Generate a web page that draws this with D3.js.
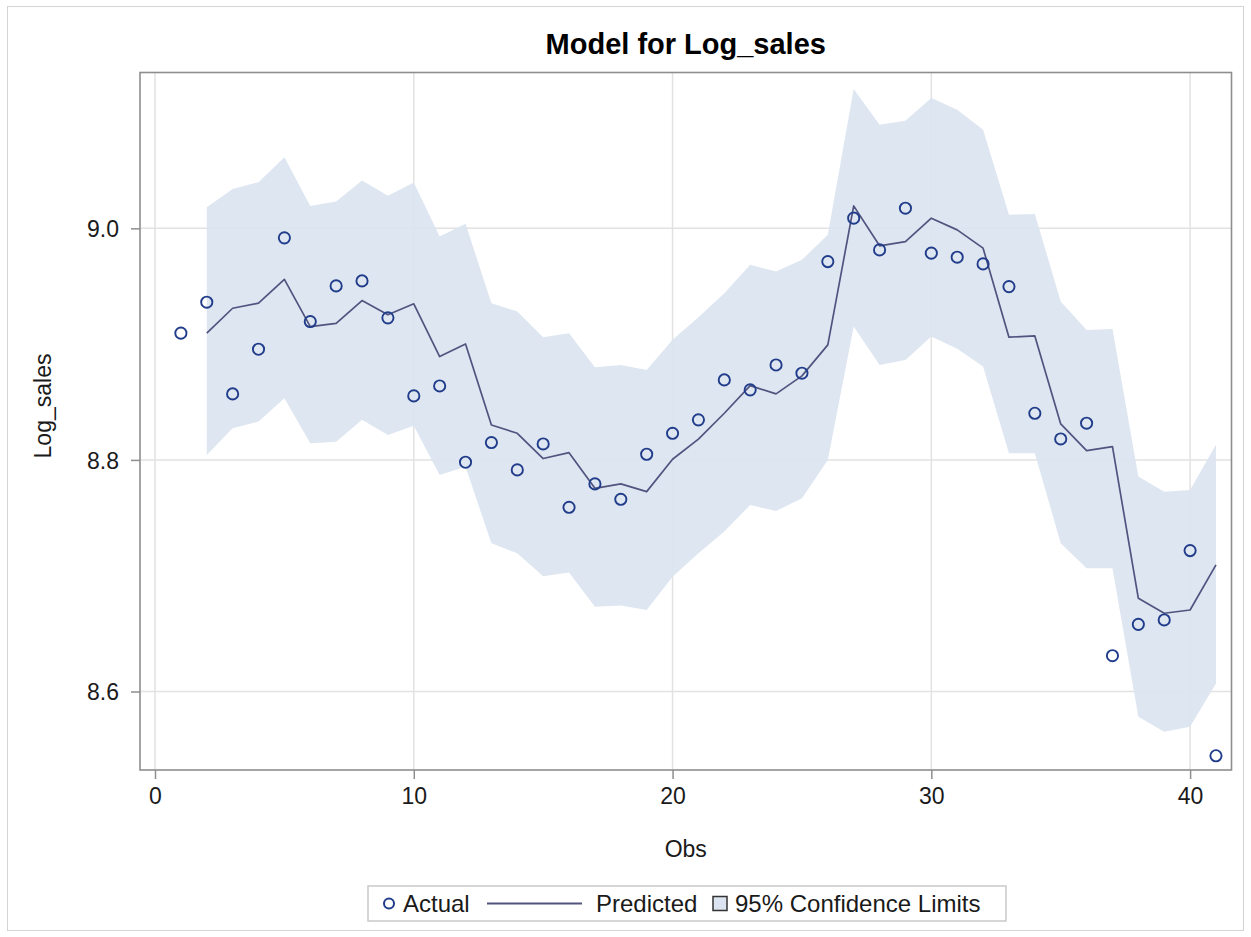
<!DOCTYPE html>
<html>
<head>
<meta charset="utf-8">
<script src="https://cdn.jsdelivr.net/npm/d3@7"></script>
<style>
  html, body { margin: 0; padding: 0; background: #ffffff; }
  svg { display: block; }
  text { font-family: "Liberation Sans", Arial, sans-serif; fill: #1a1a1a; }
</style>
</head>
<body>
<svg id="chart" width="1251" height="937"></svg>
<script>
// Observation index, observed values, model fit and 95% limits
const obs = d3.range(1, 42);
const actual = [8.9095, 8.9362, 8.857, 8.8956, 8.9918, 8.9195, 8.9503, 8.9546, 8.9227, 8.8553,
  8.8639, 8.798, 8.815, 8.7914, 8.8138, 8.7591, 8.7793, 8.766, 8.8049, 8.823,
  8.8346, 8.8691, 8.8605, 8.882, 8.8749, 8.9713, 9.0088, 8.9814, 9.0174, 8.9786,
  8.9751, 8.9693, 8.9497, 8.8403, 8.8181, 8.8317, 8.6309, 8.658, 8.6618, 8.7217, 8.5445];
const predicted = [null, 8.9095, 8.931, 8.9354, 8.956, 8.9152, 8.918, 8.9376, 8.9253, 8.9348,
  8.8893, 8.9002, 8.8302, 8.823, 8.8012, 8.8063, 8.7755, 8.7793, 8.7726, 8.8006,
  8.8179, 8.8403, 8.8642, 8.857, 8.8726, 8.8994, 9.0194, 8.9849, 8.9886, 9.0088,
  8.9987, 8.9829, 8.906, 8.9071, 8.8311, 8.808, 8.8115, 8.6805, 8.6676, 8.6704, 8.7093];
const upper = [null, 9.0183, 9.0339, 9.0399, 9.0615, 9.0194, 9.0232, 9.0413, 9.0281, 9.0396,
  8.9929, 9.0039, 8.9354, 8.9281, 8.906, 8.9095, 8.88, 8.882, 8.8777, 8.9037,
  8.9233, 8.944, 8.9685, 8.9627, 8.9728, 8.9944, 9.1203, 9.0894, 9.0929, 9.1125,
  9.1024, 9.0851, 9.0117, 9.0125, 8.9368, 8.9123, 8.913, 8.7856, 8.7726, 8.774, 8.813];
const lower = [null, 8.8043, 8.8274, 8.8331, 8.8533, 8.8144, 8.8158, 8.8346, 8.8216, 8.8295,
  8.787, 8.7942, 8.728, 8.7194, 8.6995, 8.7027, 8.6733, 8.6742, 8.6704, 8.6992,
  8.7194, 8.7381, 8.7611, 8.7559, 8.7669, 8.8, 8.9152, 8.882, 8.8864, 8.9065,
  8.896, 8.8806, 8.8058, 8.8058, 8.728, 8.7064, 8.7064, 8.5782, 8.5653, 8.5696, 8.607];
const xTicks = [0, 10, 20, 30, 40];
const yTicks = [8.6, 8.8, 9.0];
const legendLabels = ["Actual", "Predicted", "95% Confidence Limits"];

const rows = obs.map((o, i) => ({
  obs: o, actual: actual[i], predicted: predicted[i], upper: upper[i], lower: lower[i]
}));

const svg = d3.select("#chart");
const frame = { left: 140, right: 1231.5, top: 72.5, bottom: 770 };

const x = d3.scaleLinear().domain([-0.58, 41.6]).range([frame.left, frame.right]);
const y = d3.scaleLinear().domain([8.5322, 9.1346]).range([frame.bottom, frame.top]);

const bandFill = "#dbe4f0";
const lineColor = "#50547f";
const markerColor = "#203c8a";

// Outer graph border
svg.append("rect")
  .attr("x", 7.5).attr("y", 6.5).attr("width", 1236).attr("height", 924)
  .attr("fill", "none").attr("stroke", "#d4d4d4").attr("stroke-width", 1);

// Title
svg.append("text")
  .attr("x", (frame.left + frame.right) / 2).attr("y", 54)
  .attr("text-anchor", "middle")
  .style("font-size", "29px").style("font-weight", "bold").style("fill", "#000")
  .text("Model for Log_sales");

// Gridlines
const grid = svg.append("g");
grid.selectAll("line.gx").data(xTicks).join("line")
  .attr("x1", d => x(d)).attr("x2", d => x(d))
  .attr("y1", frame.top).attr("y2", frame.bottom)
  .attr("stroke", "#e2e2e2").attr("stroke-width", 1.5);
grid.selectAll("line.gy").data(yTicks).join("line")
  .attr("x1", frame.left).attr("x2", frame.right)
  .attr("y1", d => y(d)).attr("y2", d => y(d))
  .attr("stroke", "#e2e2e2").attr("stroke-width", 1.5);

// Confidence band
const bandRows = rows.filter(d => d.upper != null);
svg.append("path")
  .datum(bandRows)
  .attr("fill", bandFill)
  .attr("fill-opacity", 0.92)
  .attr("d", d3.area().x(d => x(d.obs)).y0(d => y(d.lower)).y1(d => y(d.upper)));

// Predicted line
svg.append("path")
  .datum(rows.filter(d => d.predicted != null))
  .attr("fill", "none")
  .attr("stroke", lineColor)
  .attr("stroke-width", 1.7)
  .attr("stroke-linejoin", "round")
  .attr("d", d3.line().x(d => x(d.obs)).y(d => y(d.predicted)));

// Actual values
svg.append("g").selectAll("circle").data(rows).join("circle")
  .attr("cx", d => x(d.obs)).attr("cy", d => y(d.actual))
  .attr("r", 5.6)
  .attr("fill", "none").attr("stroke", markerColor).attr("stroke-width", 1.9);

// Plot frame
svg.append("rect")
  .attr("x", frame.left).attr("y", frame.top)
  .attr("width", frame.right - frame.left).attr("height", frame.bottom - frame.top)
  .attr("fill", "none").attr("stroke", "#8e8e8e").attr("stroke-width", 1.6);

// Axes
const xAxis = svg.append("g")
  .attr("transform", `translate(0,${frame.bottom})`)
  .call(d3.axisBottom(x).tickValues(xTicks).tickFormat(d3.format("d")).tickSize(9).tickPadding(9));
const yAxis = svg.append("g")
  .attr("transform", `translate(${frame.left},0)`)
  .call(d3.axisLeft(y).tickValues(yTicks).tickFormat(d3.format(".1f")).tickSize(9).tickPadding(12));
[xAxis, yAxis].forEach(a => {
  a.select(".domain").remove();
  a.selectAll(".tick line").attr("stroke", "#8e8e8e").attr("stroke-width", 1.5);
  a.selectAll(".tick text")
    .style("font-size", "23px").style("font-family", "'Liberation Sans', Arial, sans-serif")
    .attr("fill", "#1a1a1a");
});
yAxis.selectAll(".tick text").attr("dy", "0.36em");

// Axis titles
svg.append("text")
  .attr("x", (frame.left + frame.right) / 2).attr("y", 857)
  .attr("text-anchor", "middle").style("font-size", "23px")
  .text("Obs");
svg.append("text")
  .attr("transform", "translate(51,406) rotate(-90)")
  .attr("text-anchor", "middle").style("font-size", "23px")
  .text("Log_sales");

// Legend
const lg = svg.append("g");
lg.append("rect")
  .attr("x", 368).attr("y", 886).attr("width", 638).attr("height", 35)
  .attr("fill", "#fff").attr("stroke", "#c9c9c9").attr("stroke-width", 1.5);
const ly = 903.5;
lg.append("circle").attr("cx", 389).attr("cy", ly).attr("r", 5)
  .attr("fill", "none").attr("stroke", markerColor).attr("stroke-width", 2);
lg.append("text").attr("x", 403).attr("y", ly + 8).style("font-size", "24px").text(legendLabels[0]);
lg.append("line").attr("x1", 487).attr("x2", 582).attr("y1", ly).attr("y2", ly)
  .attr("stroke", lineColor).attr("stroke-width", 1.8);
lg.append("text").attr("x", 596).attr("y", ly + 8).style("font-size", "24px").text(legendLabels[1]);
lg.append("rect").attr("x", 713).attr("y", ly - 7).attr("width", 14).attr("height", 14)
  .attr("fill", bandFill).attr("stroke", "#333").attr("stroke-width", 1.5);
lg.append("text").attr("x", 735).attr("y", ly + 8).style("font-size", "24px").text(legendLabels[2]);
</script>
</body>
</html>
